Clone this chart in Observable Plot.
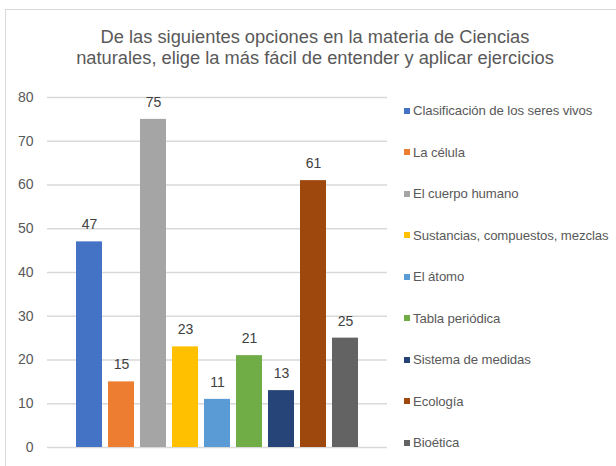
<!DOCTYPE html>
<html><head><meta charset="utf-8">
<script src="https://cdn.jsdelivr.net/npm/d3@7"></script>
<script src="https://cdn.jsdelivr.net/npm/@observablehq/plot@0.6"></script>
<style>
body{margin:0;background:#fff;font-family:"Liberation Sans",Arial,sans-serif;}
#frame{position:absolute;left:5px;top:9px;width:640px;height:480px;border:1px solid #d9d9d9;box-sizing:border-box;}
#title{position:absolute;left:0;top:27px;width:630px;text-align:center;font-size:18.3px;line-height:20.5px;color:#595959;}
#chart{position:absolute;left:0;top:80px;}
#legend{position:absolute;left:404px;top:0;}
.item{position:absolute;left:0;white-space:nowrap;font-size:13.2px;color:#595959;letter-spacing:-0.1px;}
.sw{display:inline-block;width:6px;height:6px;margin-right:3px;vertical-align:middle;position:relative;top:-1px;}
</style></head>
<body>
<div id="frame"></div>
<div id="title">De las siguientes opciones en la materia de Ciencias<br>naturales, elige la más fácil de entender y aplicar ejercicios</div>
<div id="chart"></div>
<div id="legend"></div>
<script>
const categories = ["Clasificación de los seres vivos","La célula","El cuerpo humano","Sustancias, compuestos, mezclas","El átomo","Tabla periódica","Sistema de medidas","Ecología","Bioética"];
const values = [47,15,75,23,11,21,13,61,25];
const colors = ["#4472C4","#ED7D31","#A5A5A5","#FFC000","#5B9BD5","#70AD47","#264478","#9E480E","#636363"];
const yTicks = [0,10,20,30,40,50,60,70,80];

const data = categories.map((c,i)=>({cat:c, value:values[i]}));

const plot = Plot.plot({
  width: 390, height: 386,
  marginLeft: 47, marginRight: 3, marginTop: 17, marginBottom: 19,
  style: {fontFamily: "'Liberation Sans', Arial, sans-serif", background: "transparent"},
  x: {domain: categories, paddingInner: 0.2, paddingOuter: 0.8, axis: null},
  y: {domain: [0,80], ticks: yTicks},
  color: {domain: categories, range: colors},
  marks: [
    Plot.gridY(yTicks, {stroke: "#d9d9d9", strokeOpacity: 1, strokeWidth: 1.5}),
    Plot.axisY(yTicks, {tickSize: 0, tickPadding: 14, fontSize: 14, fill: "#595959", label: null}),
    Plot.barY(data, {x: "cat", y: "value", fill: "cat"}),
    Plot.text(data, {x: "cat", y: "value", text: d => String(d.value), dy: -17, fontSize: 14, fill: "#404040"})
  ]
});
document.getElementById("chart").appendChild(plot);

const legend = document.getElementById("legend");
categories.forEach((c,i)=>{
  const it = document.createElement("div");
  it.className = "item";
  it.style.top = (103 + i*41.5) + "px";
  const sw = document.createElement("span");
  sw.className = "sw"; sw.style.background = colors[i];
  it.appendChild(sw);
  it.appendChild(document.createTextNode(c));
  legend.appendChild(it);
});
</script>
</body></html>
